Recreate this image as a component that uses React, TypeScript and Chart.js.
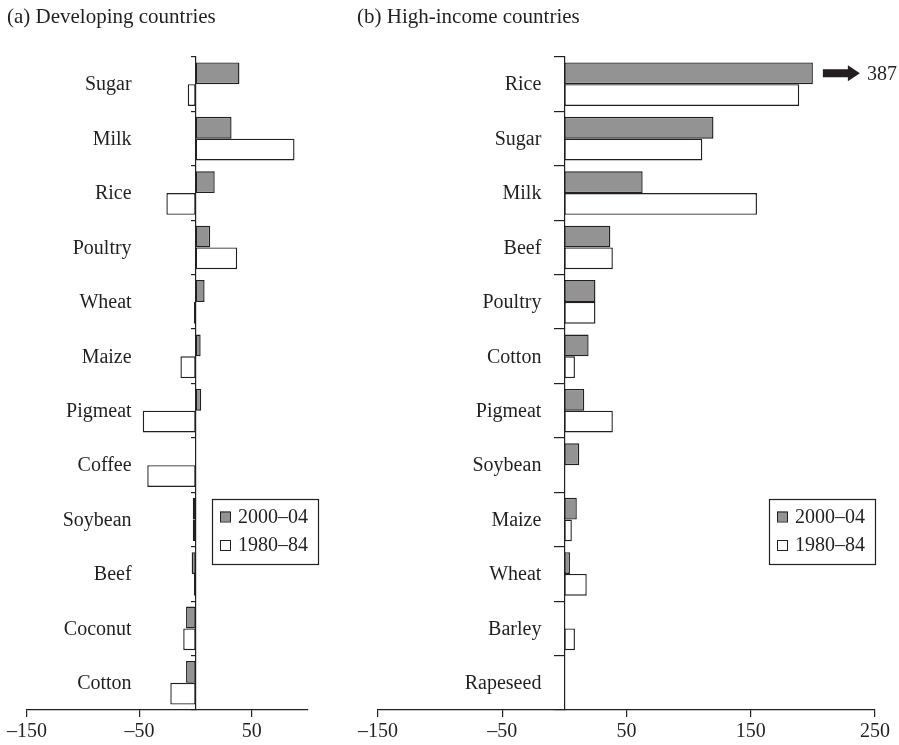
import React, { useEffect, useRef } from "react";
import { Chart, registerables } from "chart.js";

Chart.register(...registerables);

// Panel (a): developing countries
const devCategories = ["Sugar", "Milk", "Rice", "Poultry", "Wheat", "Maize", "Pigmeat", "Coffee", "Soybean", "Beef", "Coconut", "Cotton"];
const dev2000 = [39, 32, 17, 13, 8, 4.5, 5, 0, -2.5, -3.5, -8.5, -8.5];
const dev1980 = [-7, 88, -26, 37, -1.5, -13.5, -47, -43, -2.5, -1.5, -11, -22.5];
const devTicks = [-150, -50, 50];

// Panel (b): high-income countries
const highCategories = ["Rice", "Sugar", "Milk", "Beef", "Poultry", "Cotton", "Pigmeat", "Soybean", "Maize", "Wheat", "Barley", "Rapeseed"];
const high2000 = [387, 120, 63, 37, 25, 19.5, 16, 12, 10, 4.5, 0, 0];
const high1980 = [189, 111, 155, 39, 25, 8.5, 39, 0, 6, 18, 8.5, 0];
const highTicks = [-150, -50, 50, 150, 250];

const seriesLabels = ["2000–04", "1980–84"];

// Bars longer than this are cut off and marked with an arrow and their value
const BREAK_VALUE = 200;

const INK = "#231f20";
const GRAY = "#939393";
const FONT = "'Liberation Serif', 'DejaVu Serif', serif";
const FONT_SIZE = 20;

const fmt = (v: number) => (v < 0 ? "\u2013" + Math.abs(v) : String(v));

// Category names, right-aligned a fixed gap to the left of the zero line
const categoryLabels = {
  id: "categoryLabels",
  afterDraw(chart: any, _args: any, opts: any) {
    const { ctx } = chart;
    const x = chart.scales.x.getPixelForValue(0) - opts.gap;
    const yScale = chart.scales.y;
    ctx.save();
    ctx.font = `${FONT_SIZE}px ${FONT}`;
    ctx.fillStyle = INK;
    ctx.textAlign = "right";
    ctx.textBaseline = "middle";
    (chart.data.labels as string[]).forEach((label, i) => {
      ctx.fillText(label, x, yScale.getPixelForTick(i) + 1);
    });
    ctx.restore();
  },
};

const boxLegend = {
  id: "boxLegend",
  afterDraw(chart: any, _args: any, opts: any) {
    const { ctx } = chart;
    const { left, top, width, height } = opts;
    ctx.save();
    ctx.lineWidth = 1.2;
    ctx.strokeStyle = INK;
    ctx.strokeRect(left + 0.5, top + 0.5, width, height);
    const fills = [GRAY, "#ffffff"];
    const rows = [17.5, 46];
    ctx.font = `${FONT_SIZE}px ${FONT}`;
    ctx.textBaseline = "middle";
    ctx.textAlign = "left";
    seriesLabels.forEach((label, i) => {
      const cy = top + rows[i];
      ctx.fillStyle = fills[i];
      ctx.fillRect(left + 8, cy - 5, 10, 10);
      ctx.strokeStyle = INK;
      ctx.lineWidth = 1;
      ctx.strokeRect(left + 8.5, cy - 4.5, 10, 10);
      ctx.fillStyle = INK;
      ctx.fillText(label, left + 26, cy + 1);
    });
    ctx.restore();
  },
};

const breakArrows = {
  id: "breakArrows",
  afterDatasetsDraw(chart: any, _args: any, opts: any) {
    const { ctx } = chart;
    const sources: number[][] = opts.sources || [];
    ctx.save();
    sources.forEach((values, di) => {
      const meta = chart.getDatasetMeta(di);
      values.forEach((v, i) => {
        if (v <= BREAK_VALUE) return;
        const bar = meta.data[i];
        if (!bar) return;
        const x0 = bar.x + 10;
        const y = bar.y;
        ctx.fillStyle = INK;
        ctx.beginPath();
        ctx.moveTo(x0, y - 4);
        ctx.lineTo(x0 + 25, y - 4);
        ctx.lineTo(x0 + 25, y - 8);
        ctx.lineTo(x0 + 37, y);
        ctx.lineTo(x0 + 25, y + 8);
        ctx.lineTo(x0 + 25, y + 4);
        ctx.lineTo(x0, y + 4);
        ctx.closePath();
        ctx.fill();
        ctx.font = `${FONT_SIZE}px ${FONT}`;
        ctx.textAlign = "left";
        ctx.textBaseline = "middle";
        ctx.fillText(String(v), x0 + 44, y + 1);
      });
    });
    ctx.restore();
  },
};

type PanelProps = {
  categories: string[];
  recent: number[];
  early: number[];
  ticks: number[];
  min: number;
  max: number;
  padding: { left: number; right: number; top: number };
  labelGap: number;
  yTickLength: number;
  legendLeft: number;
  width: number;
};

function Panel(props: PanelProps) {
  const ref = useRef<HTMLCanvasElement>(null);
  useEffect(() => {
    if (!ref.current) return;
    const cut = (arr: number[]) => arr.map((v) => Math.min(v, BREAK_VALUE));
    const bar = {
      borderColor: INK,
      borderWidth: 1.4,
      borderSkipped: false as const,
      categoryPercentage: 0.8,
      barPercentage: 1,
    };
    const chart = new Chart(ref.current, {
      type: "bar",
      data: {
        labels: props.categories,
        datasets: [
          { label: seriesLabels[0], data: cut(props.recent), backgroundColor: GRAY, ...bar },
          { label: seriesLabels[1], data: cut(props.early), backgroundColor: "#ffffff", ...bar },
        ],
      },
      options: {
        indexAxis: "y",
        responsive: false,
        animation: false,
        layout: { padding: { ...props.padding, bottom: 0 } },
        plugins: {
          legend: { display: false },
          tooltip: { enabled: false },
          categoryLabels: { gap: props.labelGap },
          boxLegend: { left: props.legendLeft, top: 499, width: 106, height: 65 },
          breakArrows: { sources: [props.recent, props.early] },
        } as any,
        scales: {
          x: {
            type: "linear",
            min: props.min,
            max: props.max,
            position: "bottom",
            afterBuildTicks: (s: any) => {
              s.ticks = props.ticks.map((value) => ({ value }));
            },
            afterFit: (s: any) => {
              s.height = 35;
            },
            grid: { drawOnChartArea: false, drawTicks: true, tickLength: 7, color: INK, lineWidth: 1.2 },
            border: { display: true, color: INK, width: 1.2 },
            ticks: {
              color: INK,
              font: { family: FONT, size: FONT_SIZE },
              padding: 3,
              maxRotation: 0,
              autoSkip: false,
              callback: (v: any) => fmt(Number(v)),
            },
          },
          y: {
            type: "category",
            position: { x: 0 } as any,
            offset: true,
            grid: { drawOnChartArea: false, drawTicks: true, tickLength: props.yTickLength, color: INK, lineWidth: 1.2, offset: true },
            border: { display: true, color: INK, width: 1.2 },
            ticks: { display: false, autoSkip: false },
          },
        } as any,
      },
      plugins: [categoryLabels, boxLegend, breakArrows],
    });
    return () => chart.destroy();
  }, []);
  return <canvas ref={ref} width={props.width} height={745} style={{ display: "block" }} />;
}

const titleStyle: React.CSSProperties = {
  position: "absolute",
  top: 4,
  fontFamily: FONT,
  fontSize: 21,
  lineHeight: "24px",
  color: INK,
  whiteSpace: "nowrap",
};

export default function App() {
  return (
    <div style={{ position: "absolute", left: 0, top: 0, width: 899, height: 745, background: "#fff", overflow: "hidden" }}>
      <div style={{ position: "absolute", left: 0, top: 0 }}>
        <Panel
          categories={devCategories}
          recent={dev2000}
          early={dev1980}
          ticks={devTicks}
          min={-150}
          max={100}
          padding={{ left: 27, right: 32, top: 57 }}
          labelGap={64}
          yTickLength={4}
          legendLeft={212}
          width={340}
        />
      </div>
      <div style={{ position: "absolute", left: 340, top: 0 }}>
        <Panel
          categories={highCategories}
          recent={high2000}
          early={high1980}
          ticks={highTicks}
          min={-150}
          max={250}
          padding={{ left: 38, right: 24, top: 57 }}
          labelGap={23}
          yTickLength={10}
          legendLeft={429}
          width={559}
        />
      </div>
      <div style={{ ...titleStyle, left: 7 }}>(a) Developing countries</div>
      <div style={{ ...titleStyle, left: 357 }}>(b) High-income countries</div>
    </div>
  );
}
